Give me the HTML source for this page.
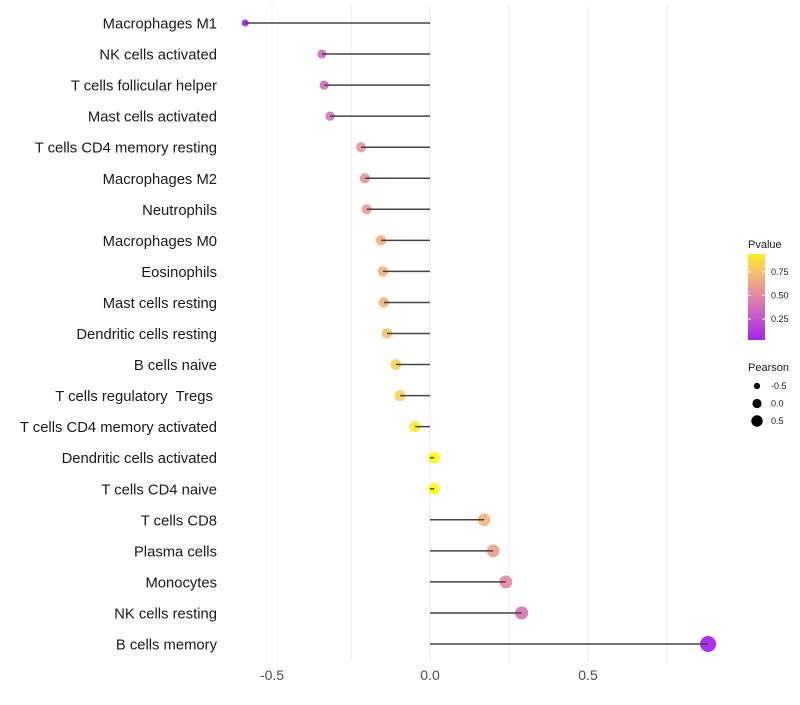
<!DOCTYPE html>
<html><head><meta charset="utf-8"><style>
body{margin:0;background:#fff;font-family:"Liberation Sans",sans-serif}
text{white-space:pre}
</style></head><body>
<svg id="chart" width="800" height="700" xmlns="http://www.w3.org/2000/svg"></svg>
<script>
const categories=["Macrophages M1","NK cells activated","T cells follicular helper","Mast cells activated","T cells CD4 memory resting","Macrophages M2","Neutrophils","Macrophages M0","Eosinophils","Mast cells resting","Dendritic cells resting","B cells naive","T cells regulatory  Tregs ","T cells CD4 memory activated","Dendritic cells activated","T cells CD4 naive","T cells CD8","Plasma cells","Monocytes","NK cells resting","B cells memory"];
const pearson=[-0.585,-0.342,-0.335,-0.316,-0.218,-0.206,-0.2,-0.155,-0.149,-0.146,-0.136,-0.108,-0.095,-0.047,0.013,0.013,0.171,0.2,0.24,0.29,0.88];
const pvalues=[0.005,0.35,0.35,0.38,0.55,0.55,0.58,0.68,0.7,0.7,0.75,0.82,0.82,0.93,0.99,0.99,0.7,0.6,0.5,0.4,0.0001];
const xTicks=[-0.5,0,0.5];
const xTickLabels=["-0.5","0.0","0.5"];
const colorTicks=[0.75,0.5,0.25];
const colorTickLabels=["0.75","0.50","0.25"];
const sizeLegend=[-0.5,0,0.5];
const sizeLegendLabels=["-0.5","0.0","0.5"];

const NS="http://www.w3.org/2000/svg";
const svg=document.getElementById('chart');
function X(v){return 430+v*316;}
function Y(i){return 23+i*31.05;}
function R(p){return Math.max(2,Math.sqrt(Math.max(1,33+36*p)));}
const stops=[[0,[162,28,240]],[0.33,[204,102,192]],[0.55,[233,146,154]],[0.75,[243,192,112]],[1,[255,255,0]]];
function C(p){for(let k=1;k<stops.length;k++){if(p<=stops[k][0]){const a=stops[k-1],b=stops[k];const t=(p-a[0])/(b[0]-a[0]);const c=a[1].map((v,j)=>Math.round(v+(b[1][j]-v)*t));return `rgb(${c})`;}}return 'rgb(255,255,0)';}
function el(tag,attrs,parent){const e=document.createElementNS(NS,tag);for(const k in attrs)e.setAttribute(k,attrs[k]);(parent||svg).appendChild(e);return e;}

[-0.5,-0.25,0,0.25,0.5,0.75].forEach(v=>{
 const g=el('line',{x1:X(v),x2:X(v),y1:5,y2:662,stroke:'#ebebeb','stroke-width':1});
 
 
});
xTicks.forEach((v,i)=>{
 const t=el('text',{x:X(v),y:680,'text-anchor':'middle','font-size':14,fill:'#4d4d4d'});
 t.textContent=xTickLabels[i];
 
 
});
categories.forEach((c,i)=>{
 const y=Y(i);
 const t=el('text',{x:217,y:y+5.5,'text-anchor':'end','font-size':14.8,fill:'#1a1a1a'});
 t.textContent=c;
 
 
 const pt=el('circle',{cx:X(pearson[i]),cy:y,r:R(pearson[i]),fill:C(pvalues[i]),'fill-opacity':0.9});
 
 
 const ln=el('line',{x1:X(0),x2:X(pearson[i]),y1:y,y2:y,stroke:'#444','stroke-width':1.5});
 
 
});
const defs=el('defs',{});
const lg=el('linearGradient',{id:'pg',x1:0,y1:1,x2:0,y2:0},defs);
for(let k=0;k<=10;k++){const p=0.027+k*(0.94-0.027)/10;el('stop',{offset:k/10,'stop-color':C(p)},lg);}
const lt=el('text',{x:748,y:248,'font-size':11,fill:'#1a1a1a'});lt.textContent='Pvalue';


const bar=el('rect',{x:748,y:254,width:17,height:86,fill:'url(#pg)'});


colorTicks.forEach((v,i)=>{
 const y=340-(v-0.027)/(0.94-0.027)*86;
 el('line',{x1:748,x2:751,y1:y,y2:y,stroke:'#fff'});el('line',{x1:762,x2:765,y1:y,y2:y,stroke:'#fff'});
 const t=el('text',{x:771,y:y+3,'font-size':9,fill:'#1a1a1a'});t.textContent=colorTickLabels[i];
 
 
});
const st=el('text',{x:748,y:371,'font-size':11,fill:'#1a1a1a'});st.textContent='Pearson';


sizeLegend.forEach((v,i)=>{
 const y=386+i*17.5;
 const c=el('circle',{cx:757,cy:y,r:R(v)*0.8,fill:'#000'});
 
 
 const t=el('text',{x:771,y:y+3,'font-size':9,fill:'#1a1a1a'});t.textContent=sizeLegendLabels[i];
 
 
});
</script>
</body></html>
